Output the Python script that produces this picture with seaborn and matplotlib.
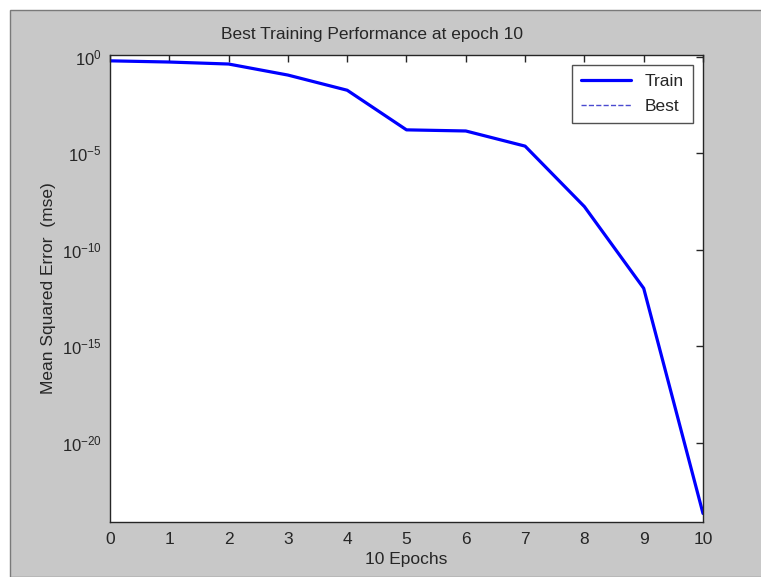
import matplotlib
matplotlib.use("Agg")
import matplotlib.pyplot as plt
import matplotlib.ticker as mticker
from matplotlib.lines import Line2D
from matplotlib.patches import Rectangle
import seaborn as sns
import numpy as np
import pandas as pd

epochs = [0, 1, 2, 3, 4, 5, 6, 7, 8, 9, 10]
train_mse = [0.6, 0.52, 0.41, 0.11, 0.018, 1.6e-4, 1.4e-4, 2.3e-5, 1.7e-8, 1.0e-12, 2.2e-24]
title = "Best Training Performance at epoch 10"
xlabel = "10 Epochs"
ylabel = "Mean Squared Error  (mse)"
y_ticks = [1e-20, 1e-15, 1e-10, 1e-5, 1e0]

sns.set_style("white")
plt.rcParams['font.family'] = ['Liberation Sans', 'DejaVu Sans']
plt.rcParams['mathtext.fontset'] = 'custom'
plt.rcParams['mathtext.rm'] = 'Liberation Sans'

df = pd.DataFrame({"epoch": epochs, "mse": train_mse})

fig = plt.figure(figsize=(7.61, 5.77), dpi=100, facecolor="white")
fig.patches.append(Rectangle((10/761, 0), 1, 1 - 10/577, transform=fig.transFigure,
                             facecolor="#c8c8c8", edgecolor="#7a7a7a", linewidth=1.0, zorder=-10))
ax = fig.add_axes([110/761, 55/577, 593/761, 467/577])
ax.set_facecolor("white")

sns.lineplot(data=df, x="epoch", y="mse", ax=ax, color="#0000ff", linewidth=2.3)
ax.set_yscale("log")
ax.set_xlim(0, 10)
ax.set_ylim(10**-24.1, 10**0.08)
ax.set_xticks(epochs)
ax.set_yticks(y_ticks)
ax.yaxis.set_major_formatter(mticker.LogFormatterSciNotation())
ax.yaxis.set_minor_locator(mticker.NullLocator())
ax.tick_params(direction="in", length=5, width=1, colors="#262626", labelsize=12.5,
               top=True, right=True, labelcolor="#262626", pad=7)
ax.tick_params(axis="y", labelsize=12, pad=6)
for s in ax.spines.values():
    s.set_visible(True)
    s.set_color("#262626")
    s.set_linewidth(1.0)

fig.text(372/761, 1 - 35/577, title, fontsize=12.5, color="#262626", ha="center", va="center")
ax.set_xlabel(xlabel, fontsize=12.5, color="#262626")
ax.xaxis.set_label_coords(0.5, -(552 - 522) / 467)
ax.set_ylabel(ylabel, fontsize=12.5, color="#262626")
ax.yaxis.set_label_coords(-(110 - 56) / 593, 0.5)

handles = [Line2D([], [], color="#0000ff", linewidth=2.3),
           Line2D([], [], color="#4a4ad0", linewidth=1.0, linestyle="--")]
leg = ax.legend(handles, ["Train", "Best"], loc="upper right", fontsize=12.5,
                frameon=True, fancybox=False, edgecolor="#262626",
                borderaxespad=0.6, handlelength=2.9, labelspacing=0.55,
                borderpad=0.5)
leg.get_frame().set_linewidth(1.0)

fig.savefig("out.png", dpi=100, facecolor=fig.get_facecolor())
